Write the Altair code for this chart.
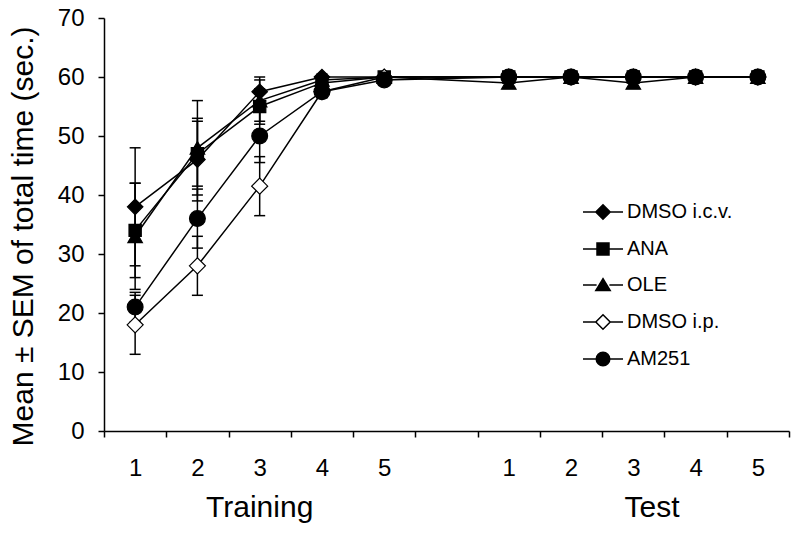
import altair as alt
import pandas as pd

# ---- data ----
series = ["DMSO i.c.v.", "ANA", "OLE", "DMSO i.p.", "AM251"]
day_labels = [1, 2, 3, 4, 5]
train_pos = [1, 2, 3, 4, 5]
test_pos = [7, 8, 9, 10, 11]

dmso_icv_train = [38, 46, 57.5, 60, 60]
ana_train = [34, 47, 55, 59, 60]
ole_train = [33, 48, 56, 59.5, 60]
dmso_ip_train = [18, 28, 41.5, 57.5, 60]
am251_train = [21, 36, 50, 57.5, 59.5]

dmso_icv_train_sem = [10, 7, 2.5, 0.5, 0]
ana_train_sem = [8, 5.5, 3, 1, 0]
ole_train_sem = [9, 8, 3.5, 0.5, 0]
dmso_ip_train_sem = [5, 5, 5, 1, 0]
am251_train_sem = [2.5, 5, 4.5, 1, 0.5]

dmso_icv_test = [60, 60, 60, 60, 60]
ana_test = [60, 60, 60, 60, 60]
ole_test = [59, 60, 59, 60, 60]
dmso_ip_test = [60, 60, 60, 60, 60]
am251_test = [60, 60, 60, 60, 60]

test_sem = [0, 0, 0, 0, 0]

phase_titles = ["Training", "Test"]
phase_title_pos = [3, 9.3]

shapes = ["diamond", "square", "triangle-up", "diamond", "circle"]
fills = ["black", "black", "black", "white", "black"]
strokes = ["black", "black", "black", "black", "black"]
marker_sizes = [240, 150, 210, 256, 250]

# legend glyphs: line segment with marker (unit = sqrt(size)/2)
legend_paths = [
    "M-2.5,0L-0.9,0M0.9,0L2.5,0M0,-0.9L0.9,0L0,0.9L-0.9,0Z",
    "M-2.5,0L-0.75,0M0.75,0L2.5,0M-0.75,-0.75L0.75,-0.75L0.75,0.75L-0.75,0.75Z",
    "M-2.5,0L-0.8,0M0.8,0L2.5,0M0,-0.8L0.9,0.7L-0.9,0.7Z",
    "M-2.5,0L-0.9,0M0.9,0L2.5,0M0,-0.9L0.9,0L0,0.9L-0.9,0Z",
    "M-2.5,0L-0.85,0M0.85,0L2.5,0M-0.85,0A0.85,0.85 0 1,1 0.85,0A0.85,0.85 0 1,1 -0.85,0Z",
]

train_means = [dmso_icv_train, ana_train, ole_train, dmso_ip_train, am251_train]
train_sems = [dmso_icv_train_sem, ana_train_sem, ole_train_sem, dmso_ip_train_sem, am251_train_sem]
test_means = [dmso_icv_test, ana_test, ole_test, dmso_ip_test, am251_test]

rows = []
for k, (s, tm, ts, te) in enumerate(zip(series, train_means, train_sems, test_means)):
    for p, m, e in zip(train_pos, tm, ts):
        rows.append({"series": s, "k": k, "pos": p, "mean": m, "sem": e})
    for p, m, e in zip(test_pos, te, test_sem):
        rows.append({"series": s, "k": k, "pos": p, "mean": m, "sem": e})
df = pd.DataFrame(rows)
df["lo"] = df["mean"] - df["sem"]
df["hi"] = df["mean"] + df["sem"]

titles_df = pd.DataFrame({"label": phase_titles, "pos": phase_title_pos})

FONT = "Liberation Sans"

label_values = train_pos + test_pos
tick_values = [v + 0.5 for v in range(0, 12)]
xscale = alt.Scale(domain=[0.5, 11.5], nice=False, zero=False)
yscale = alt.Scale(domain=[0, 70], nice=False)

x_label_axis = alt.Axis(
    orient="bottom",
    values=label_values,
    labelExpr="'' + (datum.value > 6 ? datum.value - 6 : datum.value)",
    ticks=False,
    labelOverlap=False,
    labelFlush=False,
    labelFontSize=24,
    labelPadding=25,
    labelFont=FONT,
    labelColor="black",
    domainColor="black",
    domainWidth=1.5,
    grid=False,
    title=None,
)
x_tick_axis = alt.Axis(
    orient="bottom",
    values=tick_values,
    labels=False,
    domain=False,
    ticks=True,
    tickSize=6,
    tickColor="black",
    tickWidth=1.5,
    grid=False,
    title=None,
)
y_axis = alt.Axis(
    values=list(range(0, 71, 10)),
    tickSize=6,
    labelPadding=14,
    labelFontSize=24,
    labelFont=FONT,
    labelColor="black",
    domainColor="black",
    domainWidth=1.5,
    tickColor="black",
    tickWidth=1.5,
    grid=False,
    title="Mean \u00b1 SEM of total time (sec.)",
    titleFont=FONT,
    titleFontSize=30,
    titleFontWeight="normal",
    titleColor="black",
    titleAngle=270,
    titleAlign="center",
    titleBaseline="alphabetic",
    titleX=-72,
    titleY=218,
)

base = alt.Chart(df)

lines = base.mark_line(color="black", strokeWidth=1.5).encode(
    x=alt.X("pos:Q", scale=xscale, axis=x_label_axis),
    y=alt.Y("mean:Q", scale=yscale, axis=y_axis),
    detail=alt.Detail("series:N"),
    order=alt.Order("pos:Q"),
)

err = base.mark_rule(color="black", strokeWidth=1.5).encode(
    x=alt.X("pos:Q", scale=xscale, axis=x_tick_axis),
    y="lo:Q",
    y2="hi:Q",
)
cap_lo = base.mark_tick(orient="horizontal", color="black", size=11, thickness=1.5, opacity=1).encode(
    x=alt.X("pos:Q", axis=None), y="lo:Q"
)
cap_hi = base.mark_tick(orient="horizontal", color="black", size=11, thickness=1.5, opacity=1).encode(
    x=alt.X("pos:Q", axis=None), y="hi:Q"
)

# one point layer per series, drawn in series order (AM251 on top)
point_layers = []
for s, shp, fc, sz in zip(series, shapes, fills, marker_sizes):
    point_layers.append(
        base.transform_filter(alt.datum.series == s).mark_point(
            shape=shp, filled=True, fill=fc, stroke="black", strokeWidth=1.2, size=sz, opacity=1
        ).encode(
            x=alt.X("pos:Q", axis=None),
            y="mean:Q",
        )
    )

legend = alt.Legend(
    title=None,
    orient="none",
    legendX=489,
    legendY=184,
    padding=0,
    symbolSize=256,
    symbolStrokeColor="black",
    symbolStrokeWidth=1.5,
    symbolOpacity=1,
    labelFont=FONT,
    labelFontSize=20,
    labelColor="black",
    labelOffset=14,
    rowPadding=16,
)

legend_layer = base.mark_point(filled=True, strokeWidth=1.5, opacity=1).encode(
    x=alt.X("pos:Q", axis=None),
    y="mean:Q",
    shape=alt.Shape("series:N", scale=alt.Scale(domain=series, range=legend_paths), legend=legend),
    fill=alt.Fill("series:N", scale=alt.Scale(domain=series, range=fills), legend=legend),
    stroke=alt.Stroke("series:N", scale=alt.Scale(domain=series, range=strokes), legend=legend),
).transform_filter("datum.pos < 0")

phase_text = alt.Chart(titles_df).mark_text(
    font=FONT, fontSize=30, color="black", baseline="alphabetic", align="center"
).encode(
    x=alt.X("pos:Q", scale=xscale, axis=None),
    y=alt.value(499),
    text="label:N",
)

chart = alt.layer(lines, err, cap_lo, cap_hi, *point_layers, legend_layer, phase_text).resolve_scale(
    shape="independent", fill="independent", stroke="independent"
).resolve_axis(
    x="independent"
).properties(
    width=685,
    height=413,
    autosize=alt.AutoSizeParams(type="none"),
    padding={"left": 96, "top": 10, "right": 3, "bottom": 96},
    background="white",
).configure_view(stroke=None)

chart.save("out.html", embed_options={"renderer": "svg", "actions": False})
